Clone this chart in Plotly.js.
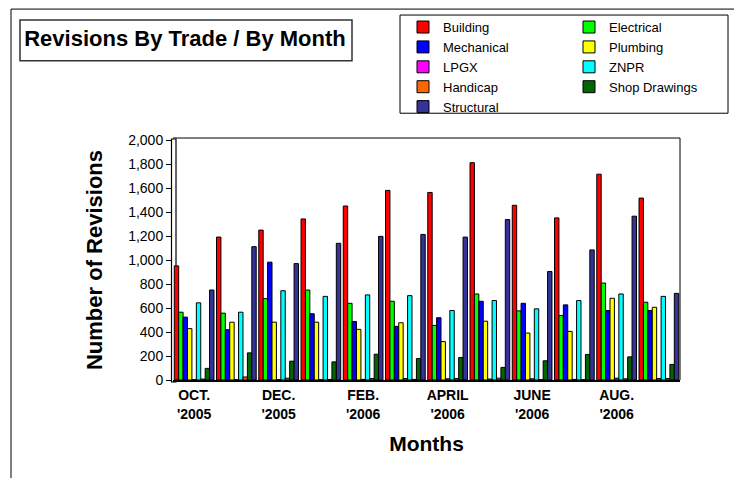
<!DOCTYPE html>
<html><head><meta charset="utf-8">
<script src="https://cdn.plot.ly/plotly-3.0.1.min.js"></script>
<style>html,body{margin:0;padding:0;background:#fff}#chart{width:734px;height:478px}</style>
</head><body><div id="chart"></div>
<script>
// ---- data ----
const months = ["OCT. '2005","NOV. '2005","DEC. '2005","JAN. '2006","FEB. '2006","MAR. '2006","APRIL '2006","MAY '2006","JUNE '2006","JULY '2006","AUG. '2006","SEPT. '2006"];
const tickMonths = ["OCT. '2005","DEC. '2005","FEB. '2006","APRIL '2006","JUNE '2006","AUG. '2006"];
const tickLabels = ["OCT.<br>'2005","DEC.<br>'2005","FEB.<br>'2006","APRIL<br>'2006","JUNE<br>'2006","AUG.<br>'2006"];
const seriesNames = ["Building","Electrical","Mechanical","Plumbing","LPGX","ZNPR","Handicap","Shop Drawings","Structural"];
const building     = [951,1191,1249,1342,1450,1580,1563,1811,1456,1351,1715,1516];
const electrical   = [565,557,678,750,639,656,455,717,576,538,808,648];
const mechanical   = [524,419,982,552,488,447,519,656,639,626,579,579];
const plumbing     = [428,482,482,482,422,477,320,490,391,405,681,606];
const lpgx         = [3,2,3,2,5,12,10,8,10,5,15,12];
const znpr         = [643,565,744,697,709,703,579,662,593,662,717,697];
const handicap     = [8,25,15,5,12,5,12,15,3,3,10,12];
const shopDrawings = [97,226,157,151,215,179,188,105,160,213,193,130];
const structural   = [750,1111,970,1139,1197,1213,1191,1337,904,1084,1365,722];
const yTickVals = [0,200,400,600,800,1000,1200,1400,1600,1800,2000];

// ---- styling ----
const seriesValues = [building,electrical,mechanical,plumbing,lpgx,znpr,handicap,shopDrawings,structural];
const colors = ["#FF0000","#00FF00","#0000FF","#FFFF00","#FF00FF","#00FFFF","#FF6600","#006600","#333399"];
const legendOf = ["legend","legend2","legend","legend2","legend","legend2","legend","legend2","legend"];
const FONT = "Liberation Sans, Arial, Helvetica, sans-serif";
const Wd = 734, Ht = 478;
const L = 173, R = 680, T = 138, B = 380;
const PW = R - L, PH = B - T;
const px2x = p => (p - L) / PW;
const py2y = p => (B - p) / PH;

const traces = seriesNames.map((n, i) => ({
  type: "bar", name: n, x: months, y: seriesValues[i],
  marker: {color: colors[i], line: {color: "#000", width: 1}},
  legend: legendOf[i], hoverinfo: "skip"
}));

function rect(x0, y0, x1, y1, extra) {
  return Object.assign({type: "rect", xref: "paper", yref: "paper",
    x0: px2x(x0), x1: px2x(x1), y0: py2y(y0), y1: py2y(y1),
    line: {color: "#000", width: 1}, fillcolor: "rgba(0,0,0,0)"}, extra || {});
}
function line(x0, y0, x1, y1, w) {
  return {type: "line", xref: "paper", yref: "paper",
    x0: px2x(x0), x1: px2x(x1), y0: py2y(y0), y1: py2y(y1),
    line: {color: "#000", width: w || 1}};
}

const layout = {
  width: Wd, height: Ht,
  margin: {l: L, r: Wd - R, t: T, b: Ht - B, pad: 0},
  paper_bgcolor: "#fff", plot_bgcolor: "#fff",
  font: {family: FONT, color: "#000"},
  showlegend: true,
  barmode: "group", bargap: 0.06, bargroupgap: 0,
  title: {text: "<b>Revisions By Trade / By Month</b>", font: {family: FONT, size: 22, color: "#000"},
    x: 185 / Wd, xref: "container", xanchor: "center",
    y: 1 - 38 / Ht, yref: "container", yanchor: "middle"},
  xaxis: {
    type: "category", categoryorder: "array", categoryarray: months,
    tickmode: "array", tickvals: tickMonths, ticktext: tickLabels,
    tickfont: {family: FONT, size: 14, color: "#000", weight: "bold"},
    ticks: "", showline: true, linecolor: "#000", linewidth: 1.5, mirror: false,
    showgrid: false, zeroline: false, ticklabelstandoff: 2,
    title: {text: "<b>Months</b>", font: {family: FONT, size: 21, color: "#000"}, standoff: 16}
  },
  yaxis: {
    range: [0, 2000], tickmode: "array", tickvals: yTickVals, tickformat: ",d",
    tickfont: {family: FONT, size: 14, color: "#000"},
    ticks: "outside", ticklen: 6, tickcolor: "#000", tickwidth: 1,
    showline: false, showgrid: false, zeroline: false,
    title: {text: "<b>Number of Revisions</b>", font: {family: FONT, size: 22, color: "#000"}, standoff: 19}
  },
  legend: {x: px2x(403), xanchor: "left", y: py2y(9), yanchor: "top",
    bgcolor: "rgba(0,0,0,0)", borderwidth: 0, font: {family: FONT, size: 13, color: "#000"}, tracegroupgap: 0},
  legend2: {x: px2x(569), xanchor: "left", y: py2y(9), yanchor: "top",
    bgcolor: "rgba(0,0,0,0)", borderwidth: 0, font: {family: FONT, size: 13, color: "#000"}, tracegroupgap: 0},
  shapes: [
    rect(11, 6, 770, 520),
    rect(20, 17, 352, 58, {line: {color: "#333", width: 1.5}}),
    rect(400, 12, 728, 111),
    line(173, 136, 680, 136),
    line(680, 136, 680, 380),
    rect(171.5, 137, 176, 382, {fillcolor: "#fff", layer: "below", line: {color: "#000", width: 1.2}})
  ]
};

Plotly.newPlot("chart", traces, layout, {displayModeBar: false, staticPlot: true});
</script>
</body></html>
